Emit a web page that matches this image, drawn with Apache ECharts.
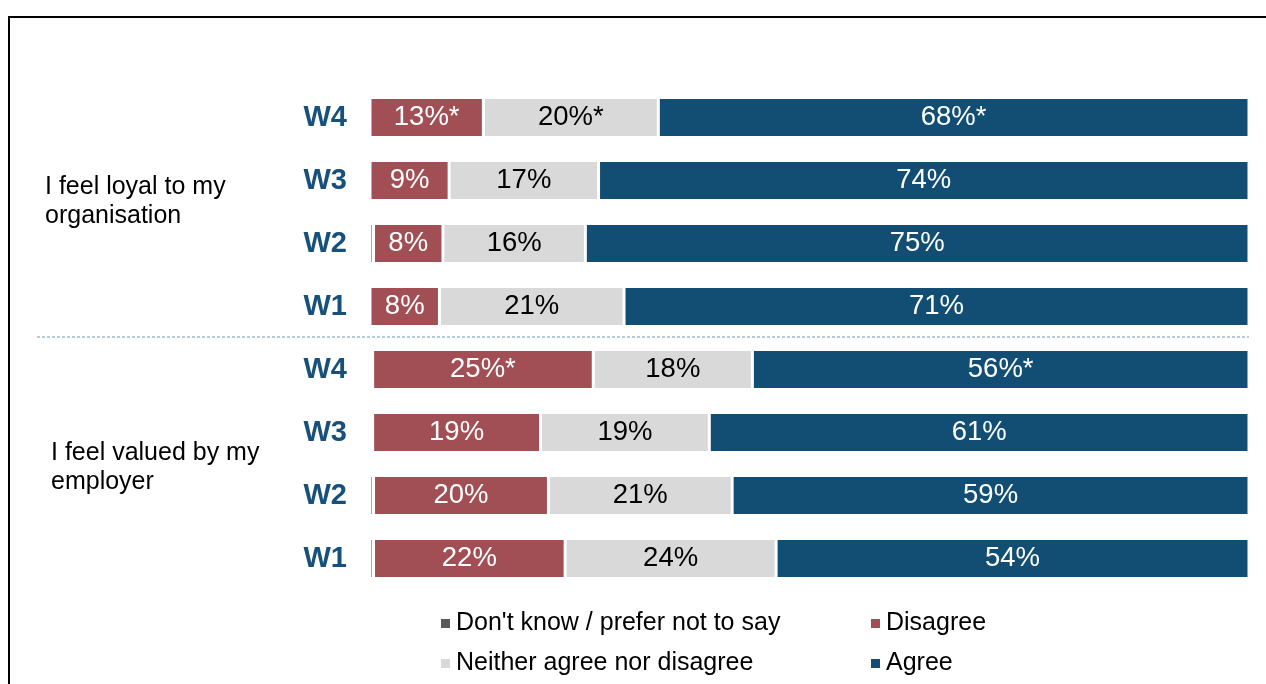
<!DOCTYPE html>
<html>
<head>
<meta charset="utf-8">
<script src="https://cdn.jsdelivr.net/npm/echarts@6/dist/echarts.min.js"></script>
<style>
  html, body { margin: 0; padding: 0; background: #fff; }
  #chart { width: 1266px; height: 684px; }
</style>
</head>
<body>
<div id="chart"></div>
<script>
// rows top to bottom: loyal W4..W1, then valued W4..W1
const rowIds = ['loyal-W4', 'loyal-W3', 'loyal-W2', 'loyal-W1', 'valued-W4', 'valued-W3', 'valued-W2', 'valued-W1']
const waveLabels = ['W4', 'W3', 'W2', 'W1', 'W4', 'W3', 'W2', 'W1']
const groupLabels = ['I feel loyal to my\norganisation', 'I feel valued by my\nemployer']

// share of respondents (%)
const dontKnow = [0, 0, 0.4, 0, 0.3, 0.3, 0.4, 0.4]
const disagree = [12.9, 9.0, 7.9, 7.9, 25.1, 19.1, 19.9, 21.8]
const neither = [19.9, 17.0, 16.2, 21.0, 18.1, 19.2, 20.9, 24.0]
const agree = [67.2, 74.0, 75.5, 71.1, 56.5, 61.4, 58.8, 53.8]

// printed labels (rounded, * = significant change)
const disagreeLabels = ['13%*', '9%', '8%', '8%', '25%*', '19%', '20%', '22%']
const neitherLabels = ['20%*', '17%', '16%', '21%', '18%', '19%', '21%', '24%']
const agreeLabels = ['68%*', '74%', '75%', '71%', '56%*', '61%', '59%', '54%']

const FONT = "'Liberation Sans', Arial, sans-serif"
const RED = '#A14F54'
const BLUE = '#124E73'
const LIGHT = '#D9D9D9'
const DARK = '#595959'

const chart = echarts.init(document.getElementById('chart'))

function barSeries(name, data, color, labels, labelColor) {
  return {
    name: name,
    type: 'bar',
    stack: 'total',
    barWidth: 40,
    data: data,
    itemStyle: { color: color, borderColor: '#fff', borderWidth: 1.5 },
    label: {
      show: !!labels,
      position: 'inside',
      formatter: p => labels ? labels[p.dataIndex] : '',
      color: labelColor,
      fontSize: 27.5,
      fontFamily: FONT
    },
    emphasis: { disabled: true }
  }
}

const legendText = { fontSize: 25, fontFamily: FONT, color: '#000', lineHeight: 25 }

const option = {
  animation: false,
  backgroundColor: '#fff',
  grid: { left: 370, right: 17, top: 86, bottom: 94 },
  xAxis: { type: 'value', min: 0, max: 100, show: false },
  yAxis: {
    type: 'category',
    inverse: true,
    data: rowIds,
    axisLine: { show: false },
    axisTick: { show: false },
    axisLabel: {
      margin: 23,
      formatter: (v, i) => waveLabels[i],
      color: '#17507A',
      fontWeight: 'bold',
      fontSize: 29,
      fontFamily: FONT
    }
  },
  legend: [
    {
      orient: 'vertical', left: 434, top: 606, itemGap: 15,
      itemWidth: 11, itemHeight: 11, icon: 'rect',
      data: ["Don't know / prefer not to say", 'Neither agree nor disagree'],
      textStyle: legendText
    },
    {
      orient: 'vertical', left: 864, top: 606, itemGap: 15,
      itemWidth: 11, itemHeight: 11, icon: 'rect',
      data: ['Disagree', 'Agree'],
      textStyle: legendText
    }
  ],
  series: [
    barSeries("Don't know / prefer not to say", dontKnow, DARK, null, '#fff'),
    barSeries('Disagree', disagree, RED, disagreeLabels, '#fff'),
    barSeries('Neither agree nor disagree', neither, LIGHT, neitherLabels, '#000'),
    barSeries('Agree', agree, BLUE, agreeLabels, '#fff')
  ],
  graphic: [
    {
      type: 'polyline', silent: true,
      shape: { points: [[9, 684], [9, 17], [1266, 17]] },
      style: { stroke: '#000', lineWidth: 2, fill: null }
    },
    {
      type: 'line', silent: true,
      shape: { x1: 37, y1: 337, x2: 1249, y2: 337 },
      style: { stroke: '#6F93AE', lineWidth: 1.2, lineDash: [3, 2] }
    },
    {
      type: 'text', silent: true, left: 45, top: 173,
      style: { text: groupLabels[0], fontSize: 25, lineHeight: 29, fontFamily: FONT, fill: '#000' }
    },
    {
      type: 'text', silent: true, left: 51, top: 439,
      style: { text: groupLabels[1], fontSize: 25, lineHeight: 29, fontFamily: FONT, fill: '#000' }
    }
  ]
}

chart.setOption(option)
</script>
</body>
</html>
